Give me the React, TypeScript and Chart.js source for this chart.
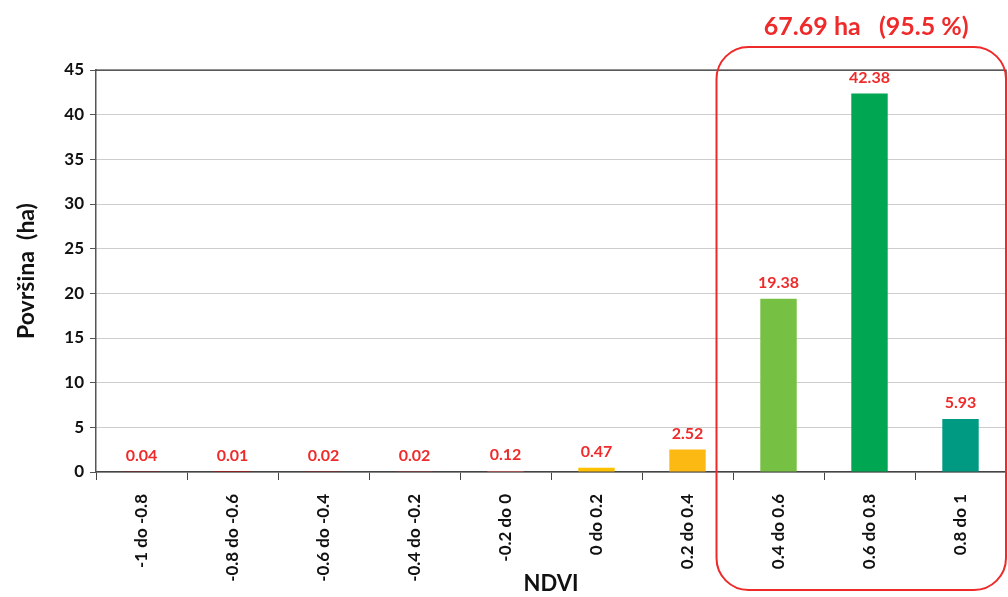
import React, { useEffect, useRef } from "react";
import { Chart, registerables } from "chart.js";

Chart.register(...registerables);

const categories = [
  "-1 do -0.8",
  "-0.8 do -0.6",
  "-0.6 do -0.4",
  "-0.4 do -0.2",
  "-0.2 do 0",
  "0 do 0.2",
  "0.2 do 0.4",
  "0.4 do 0.6",
  "0.6 do 0.8",
  "0.8 do 1",
];
const areaValues = [0.04, 0.01, 0.02, 0.02, 0.12, 0.47, 2.52, 19.38, 42.38, 5.93];
const barColors = [
  "#c00000",
  "#d00000",
  "#e00000",
  "#f03030",
  "#f26060",
  "#ffc000",
  "#fdb913",
  "#76c043",
  "#00a651",
  "#009a83",
];
const yTicks = [0, 5, 10, 15, 20, 25, 30, 35, 40, 45];
const highlightLabel = "67.69 ha   (95.5 %)";
const highlightFrom = 7;

const FONT = "Lato, 'Open Sans', sans-serif";
const RED = "#ee2a2a";

const decorPlugin = {
  id: "decor",
  afterDatasetsDraw(chart: any) {
    const { ctx, chartArea } = chart;
    const meta = chart.getDatasetMeta(0);
    ctx.save();
    ctx.strokeStyle = "#222";
    ctx.lineWidth = 1.2;
    ctx.setLineDash([]);
    ctx.beginPath();
    ctx.moveTo(chartArea.left, chartArea.top);
    ctx.lineTo(chartArea.right, chartArea.top);
    ctx.lineTo(chartArea.right, chartArea.bottom);
    ctx.stroke();
    ctx.fillStyle = RED;
    ctx.font = `bold 16px ${FONT}`;
    ctx.textAlign = "center";
    ctx.textBaseline = "bottom";
    meta.data.forEach((bar: any, i: number) => {
      ctx.fillText(areaValues[i].toFixed(2), bar.x, bar.y - 8);
    });
    const xs = chart.scales.x;
    const left = xs.getPixelForValue(highlightFrom) - 62;
    const right = chart.width - 2;
    const top = chartArea.top - 23;
    const bottom = chart.height - 7;
    const r = 32;
    ctx.strokeStyle = RED;
    ctx.lineWidth = 2;
    ctx.beginPath();
    ctx.moveTo(left + r, top);
    ctx.lineTo(right - r, top);
    ctx.arcTo(right, top, right, top + r, r);
    ctx.lineTo(right, bottom - r);
    ctx.arcTo(right, bottom, right - r, bottom, r);
    ctx.lineTo(left + r, bottom);
    ctx.arcTo(left, bottom, left, bottom - r, r);
    ctx.lineTo(left, top + r);
    ctx.arcTo(left, top, left + r, top, r);
    ctx.stroke();
    ctx.font = `bold 25px ${FONT}`;
    ctx.textBaseline = "middle";
    ctx.fillText(highlightLabel, (left + right) / 2 + 5, 27);
    ctx.restore();
  },
};

export default function App() {
  const ref = useRef<HTMLCanvasElement>(null);
  useEffect(() => {
    document.body.style.margin = "0";
    const chart = new Chart(ref.current!, {
      type: "bar",
      data: {
        labels: categories,
        datasets: [
          {
            data: areaValues,
            backgroundColor: barColors,
            barPercentage: 0.4,
            categoryPercentage: 1,
          },
        ],
      },
      options: {
        animation: false,
        responsive: false,
        maintainAspectRatio: false,
        layout: { padding: { top: 70, right: 2, bottom: 0, left: 0 } },
        plugins: { legend: { display: false }, tooltip: { enabled: false } },
        scales: {
          x: {
            afterFit: (s: any) => {
              s.height = 125;
            },
            grid: {
              offset: true,
              drawOnChartArea: false,
              drawTicks: true,
              tickLength: 8,
              color: "#444",
              tickColor: "#444",
            },
            border: { color: "#444", width: 1.5 },
            ticks: {
              minRotation: 90,
              maxRotation: 90,
              padding: 14,
              color: "#111",
              font: { family: FONT, size: 17, weight: "bold" },
            },
            title: {
              display: true,
              text: "NDVI",
              color: "#111",
              font: { family: FONT, size: 22, weight: "bold" },
              padding: { top: 0, bottom: 0 },
            },
          },
          y: {
            min: 0,
            max: 45,
            afterFit: (s: any) => {
              s.width = 96;
            },
            afterBuildTicks: (s: any) => {
              s.ticks = yTicks.map((v) => ({ value: v }));
            },
            grid: {
              color: (c: any) => (c.tick && c.tick.value === 45 ? "#222" : "#9a9a9a"),
              tickColor: "#555",
              tickBorderDash: [],
              tickLength: 6,
              drawTicks: true,
            } as any,
            border: { color: "#555", width: 1.5, dash: [1, 1] } as any,
            ticks: {
              padding: 6,
              color: "#111",
              font: { family: FONT, size: 17, weight: "bold" },
            },
            title: {
              display: true,
              text: "Površina  (ha)",
              color: "#111",
              font: { family: FONT, size: 23, weight: "bold" },
              padding: { top: 13, bottom: 0 },
            },
          },
        },
      },
      plugins: [decorPlugin],
    });
    return () => chart.destroy();
  }, []);
  return (
    <div style={{ position: "fixed", left: 0, top: 0, width: 1008, height: 597 }}>
      <canvas ref={ref} width={1008} height={597} style={{ width: 1008, height: 597 }} />
    </div>
  );
}
